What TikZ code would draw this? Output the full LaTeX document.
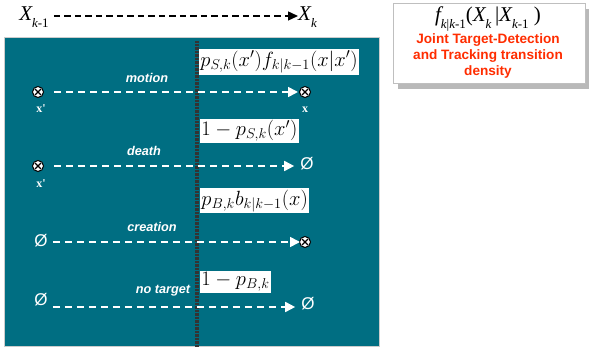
\documentclass[tikz,border=0pt]{standalone}
\usepackage{graphicx}
\usepackage{fontspec}
\setmainfont{Liberation Serif}
\newfontfamily\arialf{Liberation Sans}
\newfontfamily\timesf{Liberation Serif}
\usetikzlibrary{arrows.meta,shadows,calc}
\definecolor{tealbg}{RGB}{0,110,130}
\definecolor{redtxt}{RGB}{255,45,0}
\newcommand{\sbx}[1]{\raisebox{-0.3em}{\fontsize{13}{13}\selectfont #1}}
\newcommand{\fml}[1]{\scalebox{1.19}{\fontsize{17.28}{20}\selectfont$#1$}}
\begin{document}
\begin{tikzpicture}[x=1pt,y=-1pt,
  lbl/.style={text=white,font=\arialf\bfseries\itshape\fontsize{12.7}{13}\selectfont},
  xlbl/.style={text=white,font=\timesf\bfseries\fontsize{12}{12}\selectfont},
  formula/.style={fill=white,inner sep=1.2pt,anchor=west},
  flow/.style={white,line width=1.7pt,dash pattern=on 7pt off 5pt,-{Triangle[length=10pt,width=10pt]}},
  otim/.style={circle,draw=black,fill=white,line width=1pt,minimum size=11pt,inner sep=0pt,path picture={
     \draw[black,line width=1.1pt] ($(path picture bounding box.center)+(-3pt,-3pt)$) -- ($(path picture bounding box.center)+(3pt,3pt)$)
       ($(path picture bounding box.center)+(-3pt,3pt)$) -- ($(path picture bounding box.center)+(3pt,-3pt)$);}},
  empt/.style={text=white,font=\arialf\fontsize{17}{17}\selectfont,inner sep=0pt}
]
\useasboundingbox (0,0) rectangle (589,347);
% teal panel
\fill[tealbg] (4,38) rectangle (379,346);
\draw[gray!40,line width=1pt] (4,38) rectangle (379,346);
% vertical dotted divider
\draw[black!80,line width=3.5pt,dash pattern=on 0.8pt off 0.6pt] (197,41) -- (197,347);

% top
\node[font=\timesf\fontsize{21}{22}\selectfont,inner sep=0pt] (xkm) at (34,17) {\itshape X\sbx{\itshape k\upshape -1}};
\node[font=\timesf\fontsize{21}{22}\selectfont,inner sep=0pt,anchor=west] (xk) at (298,17) {\itshape X\sbx{\itshape k}};
\draw[black,line width=1.4pt,dash pattern=on 6.5pt off 4pt,-{Triangle[length=10pt,width=9pt]}] (xkm.east|-0,16) ++(5,0) coordinate (ta) -- (xk.west|-0,16) coordinate (tb);

% right box
\node[draw=gray!50,fill=white,minimum width=192pt,minimum height=80pt,inner sep=0pt,
  drop shadow={shadow xshift=5pt,shadow yshift=-6pt,fill=black!55},anchor=north west] (rbox) at (393,3) {};
\node[font=\timesf\fontsize{21}{22}\selectfont,inner sep=0pt] (ftr) at (488,19)
  {\itshape f\sbx{\itshape k\upshape |\itshape k\upshape -1}\upshape (\itshape X\sbx{\itshape k}\upshape\,|\itshape X\sbx{\itshape k\upshape -1}\upshape\ )};
\node[text=redtxt,font=\arialf\bfseries\fontsize{13.6}{16}\selectfont,align=center,inner sep=0pt] (rtxt) at (488,56)
  {Joint Target-Detection\\and Tracking transition\\density};

% formulas
\node[formula] (f1) at (199,62) {\fml{p_{S,k}(x')f_{k|k-1}(x|x')}};
\node[formula] (f2) at (200,131) {\fml{1-p_{S,k}(x')}};
\node[formula] (f3) at (200,201) {\fml{p_{B,k}b_{k|k-1}(x)}};
\node[formula] (f4) at (200,282) {\fml{1-p_{B,k}}};

% motion
\node[lbl] (lm) at (147,78) {motion};
\node[otim] (m1) at (38,92) {};
\node[otim] (m2) at (305,92) {};
\node[xlbl] (mx1) at (41,109) {x'};
\node[xlbl] (mx2) at (305,110) {x};
\draw[flow] ([xshift=10pt]m1.east) -- ([xshift=-1pt]m2.west);

% death
\node[lbl] (ld) at (144,151) {death};
\node[otim] (d1) at (38,166) {};
\node[empt] (d2) at (307,164) {Ø};
\node[xlbl] (dx1) at (41,184) {x'};
\draw[flow] ([xshift=10pt]d1.east) -- ([xshift=-6pt]d2.west|-d1.east);

% creation
\node[lbl] (lc) at (152,227) {creation};
\node[empt] (c1) at (41,241) {Ø};
\node[otim] (c2) at (305,242) {};
\draw[flow] ([xshift=5pt]c1.east|-c2.west) -- ([xshift=1pt]c2.west);

% no target
\node[lbl] (ln) at (163,291) {no target};
\node[empt] (n1) at (41,300) {Ø};
\node[empt] (n2) at (308,304) {Ø};
\draw[flow] ([xshift=5pt]n1.east|-0,307) coordinate (na) -- ([xshift=-6pt]n2.west|-0,307) coordinate (nb);
\end{tikzpicture}
\end{document}
